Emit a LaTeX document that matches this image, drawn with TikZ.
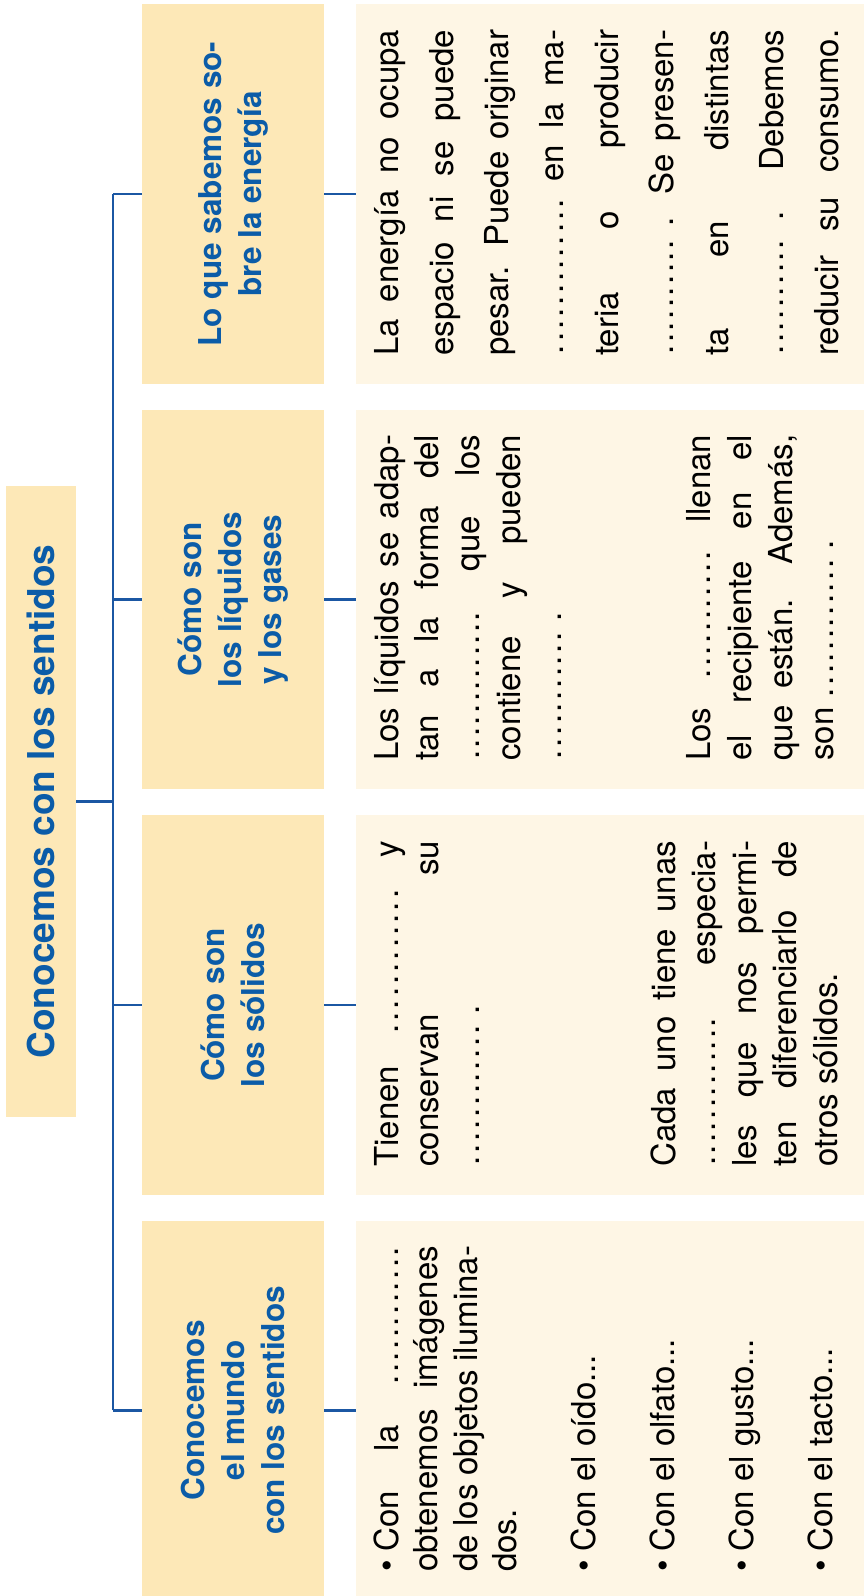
\documentclass[tikz,border=0pt]{standalone}
\usepackage{fontspec}
\setmainfont{TeX Gyre Heros}
\definecolor{hdrfill}{HTML}{FDE8B7}
\definecolor{boxfill}{HTML}{FEF6E5}
\definecolor{hblue}{HTML}{0B5CA8}
\definecolor{lblue}{HTML}{1B57A3}
\newlength\tw \setlength\tw{326pt}
\newcommand\J[1]{\hbox to \tw{#1}}
\newcommand\N[1]{\hbox{#1}}
\newcommand\E{\hbox{}}
\newcommand\dts[1]{\hbox to #1pt{\xleaders\hbox to 11.5pt{\hss.\hss}\hfill}}
\newcommand\para[2]{\vtop{\fontsize{33}{#1}\selectfont\baselineskip=#1pt\lineskiplimit=-1000pt\lineskip=0pt #2}}
\tikzset{
  hdr/.style={fill=hdrfill, inner sep=0pt, minimum height=182pt, align=center, text=hblue, font=\fontsize{31.5}{40}\selectfont\bfseries},
  cbox/.style={fill=boxfill, inner sep=0pt, minimum height=508pt},
  ttl/.style={fill=hdrfill, inner sep=0pt, minimum width=631pt, minimum height=70pt, text=hblue, font=\fontsize{37}{44}\selectfont\bfseries},
  conn/.style={draw=lblue, line width=2.5pt},
  txt/.style={anchor=base west, inner sep=0pt}
}
\begin{document}
\begin{tikzpicture}[x=1pt,y=1pt]
\useasboundingbox (0,0) rectangle (864,1596);
\coordinate (trunk) at (113,0);
\begin{scope}[rotate=90, transform shape]
  \node[ttl] (t) at (794.5,-41) {Conocemos con los sentidos};
  \node[hdr, minimum width=379pt] (h1) at (185.5,-233) {Conocemos\\el mundo\\con los sentidos};
  \node[hdr, minimum width=380pt] (h2) at (591,-233) {Cómo son\\los sólidos};
  \node[hdr, minimum width=379pt] (h3) at (996.5,-233) {Cómo son\\los líquidos\\y los gases};
  \node[hdr, minimum width=380pt] (h4) at (1402,-233) {Lo que sabemos so-\\bre la energía};
  \node[cbox, minimum width=379pt] (c1) at (185.5,-610) {};
  \node[cbox, minimum width=380pt] (c2) at (591,-610) {};
  \node[cbox, minimum width=379pt] (c3) at (996.5,-610) {};
  \node[cbox, minimum width=380pt] (c4) at (1402,-610) {};
  \node[txt] (p1) at (24,-398) {\para{39.5}{%
    \J{•\kern9pt Con la \dts{140}}
    \J{obtenemos imágenes}
    \J{de los objetos ilumina-}
    \N{dos.}
    \E
    \N{•\kern9pt Con el oído...}
    \E
    \N{•\kern9pt Con el olfato...}
    \E
    \N{•\kern9pt Con el gusto...}
    \E
    \N{•\kern9pt Con el tacto...}}};
  \node[txt] (p2a) at (429,-398) {\para{40.5}{%
    \J{Tienen \dts{148} y}
    \J{conservan su}
    \N{\dts{143} .}}};
  \node[txt] (p2b) at (429,-675) {\para{40.5}{%
    \J{Cada uno tiene unas}
    \J{\dts{150} especia-}
    \J{les que nos permi-}
    \J{ten diferenciarlo de}
    \N{otros sólidos.}}};
  \node[txt] (p3a) at (835,-398) {\para{40.75}{%
    \J{Los líquidos se adap-}
    \J{tan a la forma del}
    \J{\dts{150} que los}
    \J{contiene y pueden}
    \N{\dts{130} .}}};
  \node[txt] (p3b) at (835,-710) {\para{41}{%
    \J{Los \dts{130} llenan}
    \J{el recipiente en el}
    \J{que están. Además,}
    \N{son \dts{140} .}}};
  \node[txt] (p4) at (1240,-398) {\para{55}{%
    \J{La energía no ocupa}
    \J{espacio ni se puede}
    \J{pesar. Puede originar}
    \J{\dts{158} en la ma-}
    \J{teria o producir}
    \J{\dts{117} . Se presen-}
    \J{ta en distintas}
    \J{\dts{117} . Debemos}
    \J{reducir su consumo.}}};
\end{scope}
\draw[conn] (t.south) -- (t.south -| trunk);
\draw[conn] (h1.north -| trunk) -- (h4.north -| trunk);
\foreach \i in {1,2,3,4} {
  \draw[conn] (h\i.north -| trunk) -- (h\i.north);
  \draw[conn] (h\i.south) -- (c\i.north);
}
\end{tikzpicture}
\end{document}
